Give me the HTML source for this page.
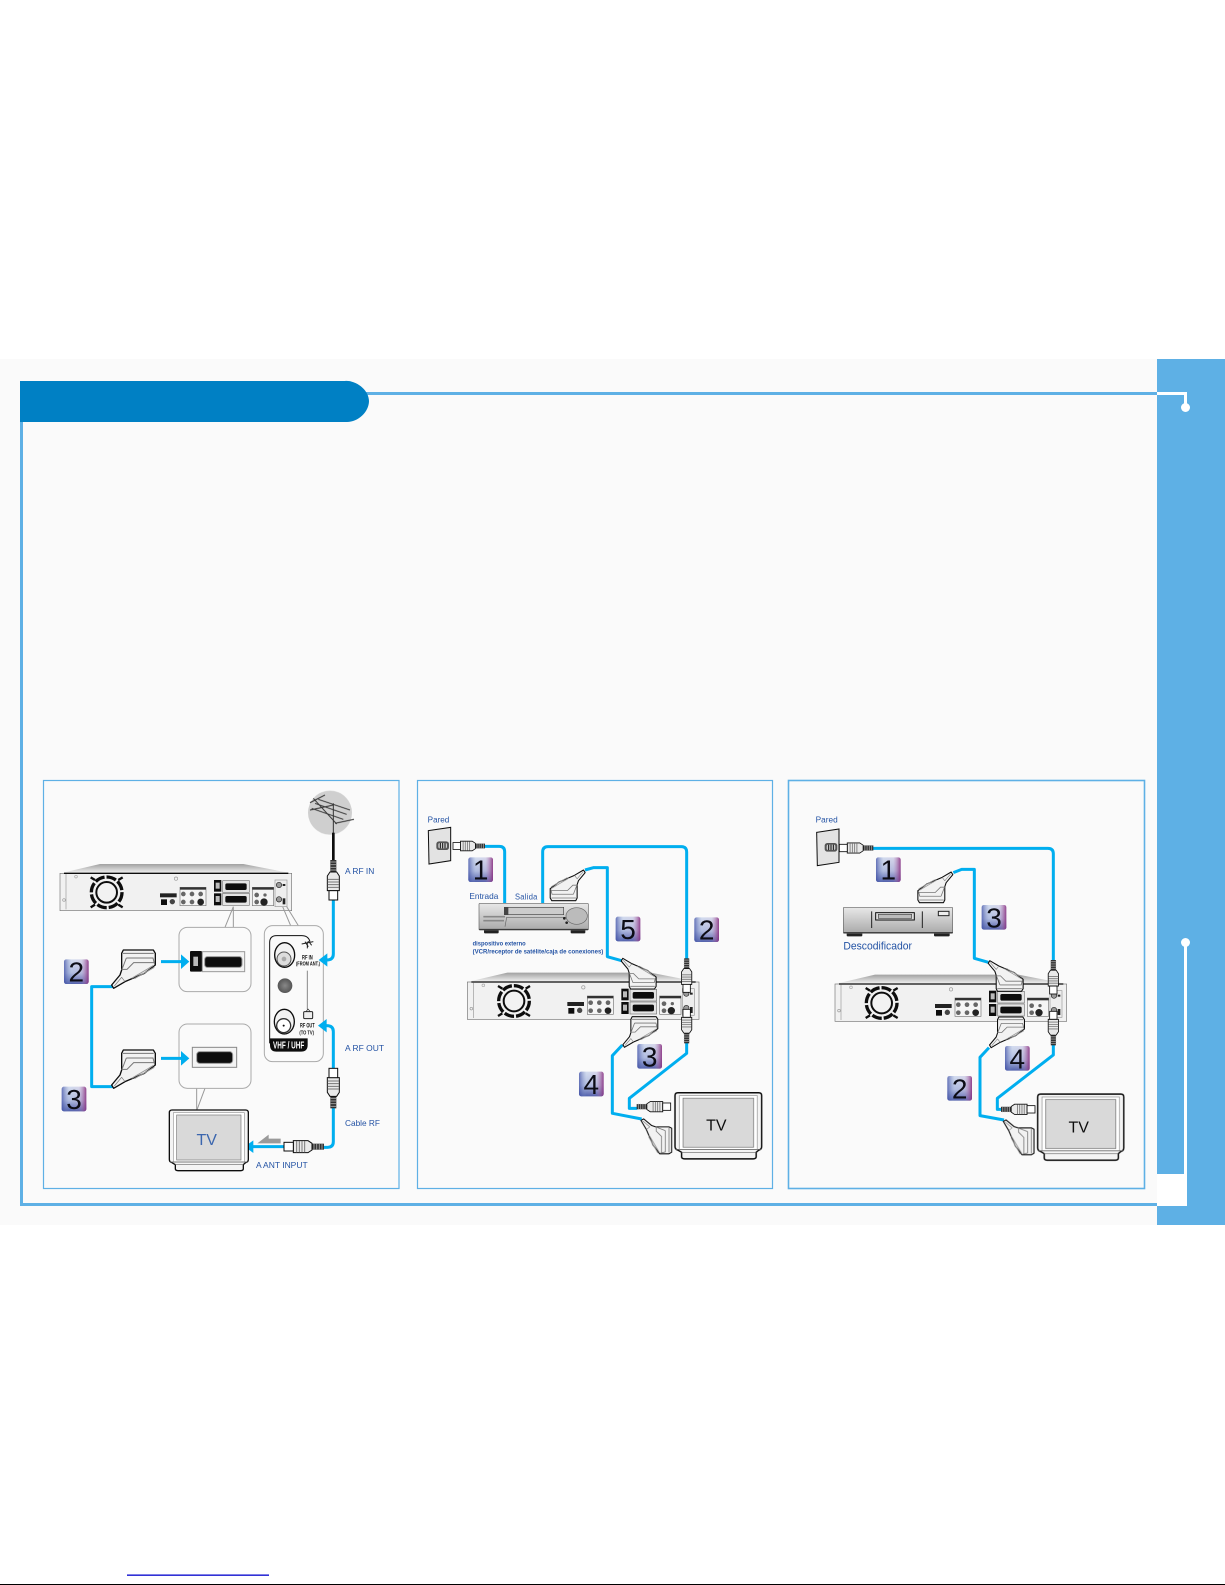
<!DOCTYPE html>
<html>
<head>
<meta charset="utf-8">
<style>
html,body{margin:0;padding:0;background:#fff;width:1225px;height:1585px;overflow:hidden}
svg{display:block}
text{font-family:"Liberation Sans",sans-serif}
.cb{fill:none;stroke:#00aeef;stroke-width:9;stroke-linejoin:round}
.lb{fill:#2452a4;font-size:26px}
.num{font-size:84px;fill:#0a0a12;text-anchor:middle}
.blk{fill:#111;font-weight:bold}
</style>
</head>
<body>
<svg width="1225" height="1585" viewBox="0 0 1225 1585" xmlns="http://www.w3.org/2000/svg">
<defs>
<filter id="soft" x="-2%" y="-2%" width="104%" height="104%"><feGaussianBlur stdDeviation="0.35"/></filter>
<linearGradient id="top" x1="0" y1="0" x2="0" y2="1"><stop offset="0" stop-color="#a0a0a0"/><stop offset="1" stop-color="#f4f4f4"/></linearGradient>
<linearGradient id="vcr" x1="0" y1="0" x2="0" y2="1"><stop offset="0" stop-color="#e8e8e8"/><stop offset="1" stop-color="#a9a9a9"/></linearGradient>
<linearGradient id="bd1" x1="0" y1="0" x2="0" y2="1"><stop offset="0" stop-color="#dbe3f2"/><stop offset=".55" stop-color="#b4c0e2"/><stop offset="1" stop-color="#4a5aa8"/></linearGradient>
<linearGradient id="bd2" x1="0" y1="0" x2="1" y2="0"><stop offset="0" stop-color="#3f4fa5" stop-opacity=".75"/><stop offset=".3" stop-color="#8f9fd0" stop-opacity=".1"/><stop offset=".7" stop-color="#c090c0" stop-opacity=".15"/><stop offset="1" stop-color="#8a3080" stop-opacity=".9"/></linearGradient>
<radialGradient id="ball"><stop offset="0" stop-color="#888"/><stop offset="1" stop-color="#555"/></radialGradient>

<g id="rec">
  <polygon points="0,30 120,2 550,2 695,30" fill="url(#top)"/>
  <rect x="0" y="30" width="695" height="112" fill="#f1f1f1" stroke="#777" stroke-width="2"/>
  <line x1="12" y1="30" x2="685" y2="30" stroke="#111" stroke-width="4"/>
  <line x1="18" y1="32" x2="18" y2="138" stroke="#999" stroke-width="2"/>
  <circle cx="140" cy="87" r="31" fill="#f2f2f2" stroke="#111" stroke-width="6"/>
  <circle cx="140" cy="87" r="46" fill="none" stroke="#111" stroke-width="10" stroke-dasharray="30 6"/>
  <path d="M92 42L105 50M188 42L175 50M92 132L105 124M188 132L175 124" stroke="#111" stroke-width="7"/>
  <circle cx="48" cy="40" r="4" fill="none" stroke="#aaa" stroke-width="2"/><circle cx="348" cy="46" r="5" fill="none" stroke="#999" stroke-width="2"/><circle cx="12" cy="110" r="4" fill="none" stroke="#999" stroke-width="2"/>
  <rect x="300" y="90" width="50" height="12" fill="#222"/>
  <rect x="303" y="108" width="18" height="17" fill="#111"/>
  <circle cx="337" cy="115" r="8" fill="#444"/>
  <rect x="360" y="72" width="78" height="55" fill="#f5f5f5" stroke="#777" stroke-width="2"/>
  <rect x="360" y="72" width="78" height="7" fill="#333"/>
  <circle cx="370" cy="92" r="7" fill="#666"/><circle cx="396" cy="92" r="7" fill="#666"/><circle cx="370" cy="116" r="7" fill="#666"/><circle cx="396" cy="116" r="7" fill="#666"/><circle cx="422" cy="92" r="7" fill="#666"/><circle cx="422" cy="116" r="10" fill="#222"/>
  <rect x="462" y="50" width="22" height="35" fill="#111"/><rect x="462" y="90" width="22" height="36" fill="#111"/>
  <rect x="467" y="58" width="12" height="18" fill="#bbb"/><rect x="467" y="98" width="12" height="18" fill="#bbb"/>
  <rect x="488" y="52" width="80" height="35" fill="#e4e4e4" stroke="#777" stroke-width="2"/><rect x="488" y="90" width="80" height="36" fill="#e4e4e4" stroke="#777" stroke-width="2"/>
  <rect x="496" y="60" width="64" height="20" rx="5" fill="#111"/><rect x="496" y="98" width="64" height="20" rx="5" fill="#111"/>
  <rect x="577" y="72" width="64" height="55" fill="#f5f5f5" stroke="#777" stroke-width="2"/>
  <rect x="577" y="72" width="64" height="7" fill="#333"/>
  <circle cx="590" cy="95" r="7" fill="#666"/><circle cx="615" cy="95" r="5" fill="#666"/><circle cx="590" cy="116" r="7" fill="#666"/><circle cx="612" cy="116" r="11" fill="#222"/>
  <rect x="645" y="50" width="36" height="80" fill="#eee" stroke="#999" stroke-width="2"/>
  <circle cx="657" cy="65" r="8" fill="#999" stroke="#222" stroke-width="2"/><circle cx="657" cy="108" r="8" fill="#999" stroke="#222" stroke-width="2"/>
  <rect x="668" y="62" width="8" height="6" fill="#222"/><rect x="668" y="105" width="8" height="18" fill="#222"/>
</g>

<g id="sc">
  <path d="M37 0L127 0L133 10L133 45L100 70L42 95L8 115L2 105L27 75L32 60L32 10Z" fill="#f2f2f2" stroke="#111" stroke-width="4" stroke-linejoin="round"/>
  <path d="M36 10L128 10M46 24L126 24L131 44M46 24L33 58L48 58L68 38L128 38" fill="none" stroke="#777" stroke-width="3"/>
  <path d="M62 85L128 46M70 86L130 52" stroke="#999" stroke-width="3" fill="none"/>
  <path d="M10 108L32 82L42 95" stroke="#777" stroke-width="2" fill="none"/>
</g>

<g id="rf">
  <rect x="-9" y="0" width="18" height="36" fill="#333"/>
  <path d="M-10 6H10M-10 14H10M-10 22H10M-10 30H10" stroke="#999" stroke-width="3"/>
  <path d="M-10 36L10 36L18 48L18 92L-18 92L-18 48Z" fill="#e9e9e9" stroke="#111" stroke-width="3"/>
  <path d="M-17 58H17M-17 66H17M-17 74H17M-17 82H17" stroke="#777" stroke-width="3"/>
  <rect x="-13" y="92" width="26" height="28" fill="#fff" stroke="#111" stroke-width="3"/>
</g>

<g id="tv">
  <path d="M8 2H229Q237 2 237 10V150Q237 158 229 160L222 166V178Q222 184 214 184H26Q18 184 18 178V166L8 160Q0 158 0 150V10Q0 2 8 2Z" fill="#f4f4f4" stroke="#111" stroke-width="4" stroke-linejoin="round"/>
  <rect x="12" y="10" width="213" height="148" fill="#fff" stroke="#999" stroke-width="2"/>
  <rect x="22" y="17" width="193" height="135" fill="#d9d9d9" stroke="#777" stroke-width="2"/>
  <path d="M2 158H235M18 166H222" stroke="#666" stroke-width="2"/>
</g>

<g id="bd">
  <rect width="74" height="74" rx="7" fill="url(#bd1)"/>
  <rect width="74" height="74" rx="7" fill="url(#bd2)"/>
</g>

<g id="wall">
  <polygon points="0,10 67,0 67,100 2,110" fill="#e3e3e3" stroke="#111" stroke-width="3"/>
  <rect x="24" y="42" width="38" height="26" rx="8" fill="#555"/>
  <rect x="30" y="47" width="26" height="16" rx="5" fill="#ccc"/>
  <path d="M36 47V63M43 47V63M50 47V63" stroke="#111" stroke-width="3"/>
</g>
</defs>

<!-- page band -->
<rect x="0" y="359" width="1225" height="866" fill="#fafafa"/>
<rect x="1157" y="359" width="68" height="866" fill="#5eb0e5"/>
<rect x="1157" y="1174" width="30" height="32" fill="#fff"/>
<rect x="1184" y="942" width="3" height="264" fill="#fff"/>
<circle cx="1185.5" cy="942.5" r="4.5" fill="#fff"/>
<rect x="1157" y="392" width="30" height="3" fill="#fff"/>
<rect x="1184" y="392" width="3" height="16" fill="#fff"/>
<circle cx="1185.5" cy="407.5" r="4.5" fill="#fff"/>
<rect x="360" y="392" width="797" height="3" fill="#5eb0e5"/>
<rect x="20" y="415" width="3" height="791" fill="#5eb0e5"/>
<rect x="20" y="1203" width="1137" height="3" fill="#5eb0e5"/>
<path d="M20 381H345C356 380 369 390 369 401C369 412 358 422 347 422H20Z" fill="#0080c4"/>
<rect x="43.5" y="780.5" width="355.5" height="408" fill="#fafafa" stroke="#5eb0e5" stroke-width="1.2"/>
<rect x="417.5" y="780.5" width="355" height="408" fill="#fafafa" stroke="#5eb0e5" stroke-width="1.2"/>
<rect x="788.5" y="780.5" width="356" height="408" fill="#fafafa" stroke="#5eb0e5" stroke-width="1.6"/>

<!-- panel 1 -->
<g transform="translate(0,760) scale(.33333)" filter="url(#soft)">
  <circle cx="990" cy="158" r="66" fill="#cfcfcf"/>
  <g stroke="#333" stroke-width="3" fill="none">
    <path d="M955 118L1050 150M945 130L1040 163M935 145L1030 178M930 128L975 105M1005 190L1062 178M930 150L1000 135"/>
    <path d="M940 115L1010 192M1000 130V220"/>
  </g>
  <line x1="1000" y1="218" x2="1000" y2="302" stroke="#111" stroke-width="8"/>
  <use href="#rec" x="180" y="310"/>

  <path d="M700 440L675 502M700 440V502" stroke="#999" stroke-width="3" fill="none"/>
  <path d="M848 440L872 497M860 440L895 497" stroke="#999" stroke-width="3" fill="none"/>
  <path d="M615 985L590 1052M590 985V1052" stroke="#999" stroke-width="3" fill="none"/>

  <rect x="537" y="502" width="216" height="193" rx="25" fill="#fafafa" stroke="#aaa" stroke-width="3"/>
  <rect x="570" y="573" width="36" height="62" rx="3" fill="#111"/>
  <rect x="580" y="590" width="14" height="28" fill="#bbb"/>
  <rect x="607" y="575" width="127" height="60" fill="#f3f3f3" stroke="#999" stroke-width="3"/>
  <rect x="614" y="590" width="112" height="32" rx="8" fill="#111" stroke="#999" stroke-width="3"/>

  <rect x="537" y="792" width="216" height="193" rx="25" fill="#fafafa" stroke="#aaa" stroke-width="3"/>
  <rect x="577" y="862" width="133" height="60" fill="#f3f3f3" stroke="#888" stroke-width="3"/>
  <rect x="590" y="875" width="108" height="35" rx="9" fill="#111" stroke="#999" stroke-width="3"/>

  <rect x="793" y="497" width="177" height="408" rx="25" fill="#fafafa" stroke="#aaa" stroke-width="3"/>
  <path d="M809 850V548Q809 527 830 527H905Q925 527 930 545" fill="none" stroke="#111" stroke-width="3"/>
  <path d="M810 835H923V855Q923 875 903 875H830Q810 875 810 855Z" fill="#111"/>
  <text x="866" y="866" fill="#fff" font-size="30" font-weight="bold" text-anchor="middle" textLength="94" lengthAdjust="spacingAndGlyphs">VHF / UHF</text>
  <ellipse cx="854" cy="585" rx="30" ry="37" fill="#f2f2f2" stroke="#111" stroke-width="4"/>
  <circle cx="852" cy="597" r="21" fill="#ddd" stroke="#555" stroke-width="3"/>
  <circle cx="852" cy="597" r="7" fill="#aaa"/>
  <circle cx="855" cy="677" r="22" fill="url(#ball)"/>
  <ellipse cx="853" cy="785" rx="30" ry="37" fill="#f2f2f2" stroke="#111" stroke-width="4"/>
  <circle cx="851" cy="797" r="21" fill="#fff" stroke="#333" stroke-width="4"/>
  <circle cx="851" cy="797" r="3" fill="#111"/>
  <path d="M905 552L940 545M915 545L925 560M925 543L935 556M922 545V565" stroke="#222" stroke-width="3" fill="none"/>
  <path d="M922 632V748" stroke="#888" stroke-width="3"/>
  <rect x="911" y="755" width="27" height="21" rx="3" fill="#eee" stroke="#222" stroke-width="3"/>
  <path d="M918 755L924 747L931 755" fill="none" stroke="#222" stroke-width="2"/>
  <text class="blk" x="906" y="599" font-size="20" textLength="32" lengthAdjust="spacingAndGlyphs">RF IN</text>
  <text class="blk" x="888" y="617" font-size="16" textLength="72" lengthAdjust="spacingAndGlyphs">(FROM ANT.)</text>
  <text class="blk" x="900" y="802" font-size="20" textLength="44" lengthAdjust="spacingAndGlyphs">RF OUT</text>
  <text class="blk" x="898" y="823" font-size="16" textLength="44" lengthAdjust="spacingAndGlyphs">(TO TV)</text>

  <path class="cb" d="M340 680H275V980H340"/>
  <use href="#sc" x="333" y="570"/>
  <use href="#sc" x="333" y="870"/>
  <path class="cb" d="M483 605H548"/><polygon points="543,583 568,605 543,627" fill="#00aeef"/>
  <path class="cb" d="M483 895H548"/><polygon points="543,873 568,895 543,917" fill="#00aeef"/>
  <path class="cb" d="M1000 415V582Q1000 600 980 600H975"/><polygon points="956,600 982,580 982,620" fill="#00aeef"/>
  <path class="cb" d="M1000 930V815Q1000 797 980 797H975"/><polygon points="954,797 980,777 980,817" fill="#00aeef"/>
  <path class="cb" d="M1000 1040V1145Q1000 1162 983 1162H965"/>
  <path class="cb" d="M855 1160H755"/><polygon points="734,1160 760,1141 760,1179" fill="#00aeef"/>
  <polygon points="772,1150 806,1124 806,1136 842,1136 842,1150" fill="#9a9a9a"/>
  <use href="#rf" transform="translate(1000,300)"/>
  <use href="#rf" transform="translate(1000,1045) rotate(180)"/>
  <use href="#rf" transform="translate(972,1160) rotate(90)"/>
  <use href="#tv" x="508" y="1048"/>
  <text x="620" y="1155" font-size="48" fill="#3b66ae" text-anchor="middle">TV</text>
  <use href="#bd" x="192" y="598"/><text class="num" x="229" y="665">2</text>
  <use href="#bd" x="185" y="980"/><text class="num" x="222" y="1047">3</text>
  <text class="lb" x="1035" y="342" textLength="88" lengthAdjust="spacingAndGlyphs">A RF IN</text>
  <text class="lb" x="1035" y="873" textLength="117" lengthAdjust="spacingAndGlyphs">A RF OUT</text>
  <text class="lb" x="1035" y="1098" textLength="105" lengthAdjust="spacingAndGlyphs">Cable RF</text>
  <text class="lb" x="768" y="1224" textLength="155" lengthAdjust="spacingAndGlyphs">A ANT INPUT</text>
</g>

<!-- panel 2 -->
<g transform="translate(410,770) scale(.33333)" filter="url(#soft)">
  <text class="lb" x="53" y="157" textLength="65" lengthAdjust="spacingAndGlyphs">Pared</text>
  <use href="#wall" x="55" y="172"/>
  <path class="cb" d="M222 229H268Q284 229 284 245V402"/>
  <path class="cb" d="M398 402V246Q398 230 414 230H814Q830 230 830 246V568"/>
  <path class="cb" d="M525 300L550 293H592V560L635 572"/>
  <path class="cb" d="M830 818V850L658 985V1015H682"/>
  <path class="cb" d="M637 825L607 857V1030L695 1047"/>
  <rect x="222" y="476" width="44" height="14" rx="3" fill="#222"/><rect x="482" y="476" width="44" height="14" rx="3" fill="#222"/>
  <rect x="207" y="400" width="328" height="80" rx="3" fill="url(#vcr)" stroke="#666" stroke-width="2"/>
  <rect x="283" y="412" width="178" height="22" fill="#ccc" stroke="#444" stroke-width="2"/>
  <rect x="283" y="412" width="12" height="22" fill="#444"/>
  <path d="M220 440H285M220 452H282" stroke="#888" stroke-width="5"/>
  <path d="M285 470L290 442H470" fill="none" stroke="#666" stroke-width="2"/>
  <ellipse cx="500" cy="438" rx="32" ry="25" fill="#bbb" stroke="#666" stroke-width="2"/>
  <circle cx="463" cy="445" r="4" fill="#222"/><circle cx="470" cy="458" r="4" fill="#222"/>
  <line x1="208" y1="478" x2="535" y2="478" stroke="#333" stroke-width="3"/>
  <use href="#sc" transform="translate(527,392) rotate(180) scale(.8)"/>
  <text class="lb" x="178" y="387" textLength="87" lengthAdjust="spacingAndGlyphs">Entrada</text>
  <text class="lb" x="315" y="388" textLength="68" lengthAdjust="spacingAndGlyphs" style="letter-spacing:1px">Salida</text>
  <text class="lb" x="188" y="526" font-weight="bold" style="font-size:19px" textLength="159" lengthAdjust="spacingAndGlyphs">dispositivo externo</text>
  <text class="lb" x="188" y="551" font-weight="bold" style="font-size:19px" textLength="392" lengthAdjust="spacingAndGlyphs">(VCR/receptor de satélite/caja de conexiones)</text>
  <use href="#rec" x="172" y="606"/>
  <use href="#sc" transform="translate(632,657) scale(.8,-.8)"/>
  <use href="#sc" transform="translate(637,740) scale(.8)"/>
  <use href="#rf" transform="translate(830,565) scale(.85)"/>
  <use href="#rf" transform="translate(830,820) rotate(180) scale(.85)"/>
  <use href="#rf" transform="translate(225,228) rotate(90) scale(.8)"/>
  <use href="#rf" transform="translate(680,1010) rotate(-90) scale(.85)"/>
  <use href="#sc" transform="translate(785,1045) rotate(90) scale(.8)"/>
  <use href="#tv" transform="translate(795,966) scale(1.097,1.09)"/>
  <text x="919" y="1082" font-size="48" fill="#111" text-anchor="middle">TV</text>
  <use href="#bd" x="175" y="262"/><text class="num" x="212" y="329">1</text>
  <use href="#bd" x="617" y="440"/><text class="num" x="654" y="507">5</text>
  <use href="#bd" x="853" y="442"/><text class="num" x="890" y="509">2</text>
  <use href="#bd" x="682" y="822"/><text class="num" x="719" y="889">3</text>
  <use href="#bd" x="507" y="905"/><text class="num" x="544" y="972">4</text>
</g>

<!-- panel 3 -->
<g transform="translate(785,770) scale(.33333)" filter="url(#soft)">
  <text class="lb" x="92" y="158" textLength="66" lengthAdjust="spacingAndGlyphs">Pared</text>
  <use href="#wall" x="95" y="177"/>
  <path class="cb" d="M262 235H789Q805 235 805 251V572"/>
  <path class="cb" d="M505 308L530 298H568V565L610 577"/>
  <path class="cb" d="M805 825V855L637 985V1018H652"/>
  <path class="cb" d="M612 833L585 862V1037L657 1050"/>
  <rect x="185" y="486" width="47" height="13" rx="3" fill="#222"/><rect x="447" y="486" width="47" height="13" rx="3" fill="#222"/>
  <rect x="175" y="412" width="328" height="78" rx="3" fill="url(#vcr)" stroke="#666" stroke-width="2"/>
  <path d="M260 424V474M412 424V474" stroke="#222" stroke-width="3"/>
  <rect x="272" y="428" width="116" height="22" fill="#ddd" stroke="#111" stroke-width="3"/>
  <rect x="280" y="433" width="100" height="12" fill="#bbb" stroke="#444" stroke-width="2"/>
  <rect x="460" y="424" width="32" height="13" fill="#eee" stroke="#222" stroke-width="3"/>
  <line x1="176" y1="488" x2="503" y2="488" stroke="#333" stroke-width="3"/>
  <use href="#sc" transform="translate(505,398) rotate(180) scale(.8)"/>
  <text class="lb" x="175" y="539" style="font-size:34px" textLength="206" lengthAdjust="spacingAndGlyphs">Descodificador</text>
  <use href="#rec" x="150" y="612"/>
  <use href="#sc" transform="translate(608,664) scale(.8,-.8)"/>
  <use href="#sc" transform="translate(612,741) scale(.8)"/>
  <use href="#rf" transform="translate(805,570) scale(.85)"/>
  <use href="#rf" transform="translate(805,826) rotate(180) scale(.85)"/>
  <use href="#rf" transform="translate(265,234) rotate(90) scale(.85)"/>
  <use href="#rf" transform="translate(648,1018) rotate(-90) scale(.85)"/>
  <use href="#sc" transform="translate(747,1048) rotate(90) scale(.8)"/>
  <use href="#tv" transform="translate(758,970) scale(1.09,1.09)"/>
  <text x="881" y="1088" font-size="48" fill="#111" text-anchor="middle">TV</text>
  <use href="#bd" x="273" y="262"/><text class="num" x="310" y="329">1</text>
  <use href="#bd" x="590" y="405"/><text class="num" x="627" y="472">3</text>
  <use href="#bd" x="660" y="828"/><text class="num" x="697" y="895">4</text>
  <use href="#bd" x="487" y="918"/><text class="num" x="524" y="985">2</text>
</g>

<!-- bottom marks -->
<rect x="127" y="1574.5" width="142" height="1.3" fill="#0000cc"/>
<rect x="0" y="1584" width="1225" height="1" fill="#000"/>
</svg>
</body>
</html>
